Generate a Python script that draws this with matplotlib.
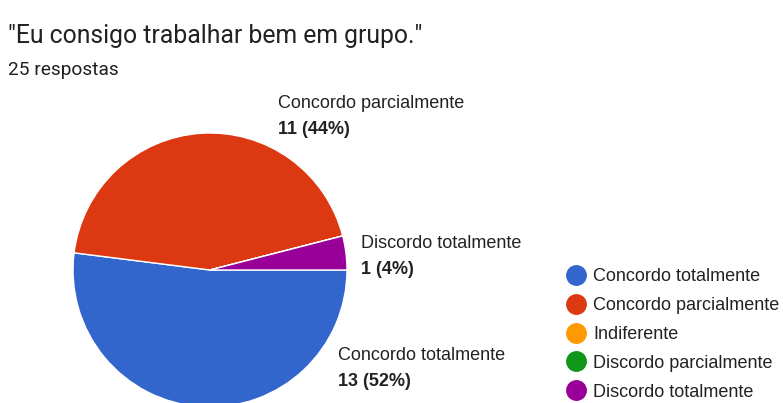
import matplotlib.pyplot as plt
from matplotlib.lines import Line2D

# --- data ---
title = '"Eu consigo trabalhar bem em grupo."'
subtitle = "25 respostas"
categories = ["Concordo totalmente", "Concordo parcialmente", "Indiferente",
              "Discordo parcialmente", "Discordo totalmente"]
counts = [13, 11, 0, 0, 1]
colors = ["#3366cc", "#dc3912", "#ff9900", "#109618", "#990099"]

W, H = 783, 403
fig = plt.figure(figsize=(W / 100, H / 100), dpi=100)

# pie centre (210, 270) px, radius 137 px
cx, cy, r = 210, 270, 137
ax = fig.add_axes([(cx - r) / W, (H - cy - r) / H, 2 * r / W, 2 * r / H])
ax.pie(counts, colors=colors, startangle=0, counterclock=False,
       wedgeprops=dict(edgecolor="white", linewidth=1), radius=1)
ax.set_xlim(-1, 1)
ax.set_ylim(-1, 1)
ax.set_aspect("equal")
ax.axis("off")

fig.text(8 / W, 1 - 36 / H, title, fontsize=17.8, family="Roboto",
         color="#202124", va="center")
fig.text(8 / W, 1 - 70 / H, subtitle, fontsize=13.8, family="Roboto",
         color="#202124", va="center")

# slice labels: (x px, y px of name line)
total = sum(counts)
label_pos = {0: (338, 355), 1: (278, 104), 4: (361, 243)}
for i, (px, py) in label_pos.items():
    fig.text(px / W, 1 - py / H, categories[i], fontsize=13,
             family="Liberation Sans", color="#222222", va="center")
    fig.text(px / W, 1 - (py + 26) / H,
             f"{counts[i]} ({counts[i] / total:.0%})", fontsize=13,
             family="Liberation Sans", weight="bold", color="#222222",
             va="center")

handles = [Line2D([], [], marker="o", linestyle="none", markersize=14,
                  markerfacecolor=c, markeredgecolor=c) for c in colors]
fig.legend(handles, categories, loc="upper left",
           bbox_to_anchor=(567 / W, 1 - 268 / H), frameon=False,
           prop=dict(family="Liberation Sans", size=13),
           handlelength=1.0, handletextpad=0.45, labelspacing=0.66,
           borderaxespad=0, borderpad=0, labelcolor="#222222")

fig.savefig("out.png", dpi=100)
